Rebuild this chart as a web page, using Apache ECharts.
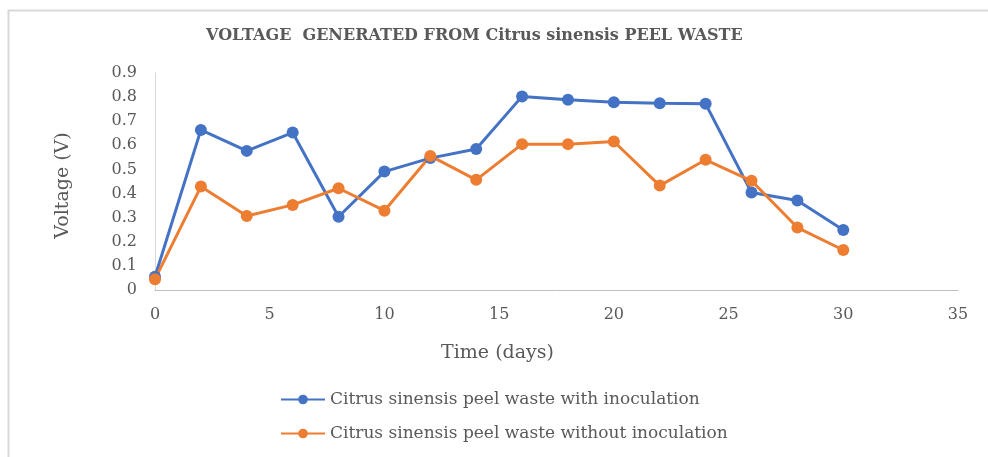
<!DOCTYPE html>
<html>
<head>
<meta charset="utf-8">
<script src="https://cdn.jsdelivr.net/npm/echarts@6/dist/echarts.min.js"></script>
<style>
html,body{margin:0;padding:0;background:#fff;}
#chart{width:988px;height:457px;}
</style>
</head>
<body>
<div id="chart"></div>
<script>
const days = [0, 2, 4, 6, 8, 10, 12, 14, 16, 18, 20, 22, 24, 26, 28, 30];
const withInoculation = [0.055, 0.664, 0.577, 0.653, 0.304, 0.491, 0.547, 0.585, 0.803, 0.789, 0.779, 0.775, 0.772, 0.404, 0.371, 0.249];
const withoutInoculation = [0.045, 0.429, 0.307, 0.353, 0.422, 0.329, 0.556, 0.457, 0.605, 0.605, 0.616, 0.433, 0.540, 0.453, 0.259, 0.166];
const seriesNames = ['Citrus sinensis peel waste with inoculation', 'Citrus sinensis peel waste without inoculation'];
const titleText = 'VOLTAGE  GENERATED FROM Citrus sinensis PEEL WASTE';

const serif = '"DejaVu Serif", "Liberation Serif", serif';
const chart = echarts.init(document.getElementById('chart'));
const pair = (xs, ys) => xs.map((x, i) => [x, ys[i]]);
chart.setOption({
  animation: false,
  backgroundColor: '#fff',
  graphic: [{
    type: 'rect', left: 6, top: 8, shape: {width: 1000, height: 520},
    style: {fill: 'none', stroke: '#d9d9d9', lineWidth: 2}, silent: true
  }],
  title: {
    text: titleText, left: 206, top: 28, padding: 0,
    textStyle: {fontFamily: serif, fontWeight: 'bold', fontSize: 16, color: '#595959'}
  },
  grid: {left: 155, right: 30, top: 73, bottom: 167},
  legend: {
    orient: 'vertical', left: 280, top: 391, padding: 0, itemGap: 17, itemWidth: 44, itemHeight: 12,
    textStyle: {fontFamily: serif, fontSize: 17, color: '#595959'},
    data: seriesNames
  },
  xAxis: {
    type: 'value', min: 0, max: 35, interval: 5,
    name: 'Time (days)', nameLocation: 'middle', nameGap: 54,
    nameTextStyle: {fontFamily: serif, fontSize: 19, color: '#595959', padding: [0, 118, 0, 0]},
    axisLine: {show: true, lineStyle: {color: '#bfbfbf', width: 1}},
    axisTick: {show: false}, splitLine: {show: false},
    axisLabel: {fontFamily: serif, fontSize: 16, color: '#595959', margin: 17,
      formatter: v => String(v)}
  },
  yAxis: {
    type: 'value', min: 0, max: 0.9, interval: 0.1,
    name: 'Voltage (V)', nameLocation: 'middle', nameGap: 82, nameRotate: 90,
    nameTextStyle: {fontFamily: serif, fontSize: 19, color: '#595959', padding: [0, 8, 0, 0]},
    axisLine: {show: true, lineStyle: {color: '#d9d9d9', width: 1}},
    axisTick: {show: false}, splitLine: {show: false},
    axisLabel: {fontFamily: serif, fontSize: 16, color: '#595959', margin: 18,
      formatter: v => (Math.round(v * 10) / 10).toString()}
  },
  series: [
    {name: seriesNames[0], type: 'line', data: pair(days, withInoculation),
     symbol: 'circle', symbolSize: 12, color: '#4472C4',
     lineStyle: {width: 3, color: '#4472C4'}, itemStyle: {color: '#4472C4'}},
    {name: seriesNames[1], type: 'line', data: pair(days, withoutInoculation),
     symbol: 'circle', symbolSize: 12, color: '#ED7D31',
     lineStyle: {width: 3, color: '#ED7D31'}, itemStyle: {color: '#ED7D31'}}
  ]
});
</script>
</body>
</html>
